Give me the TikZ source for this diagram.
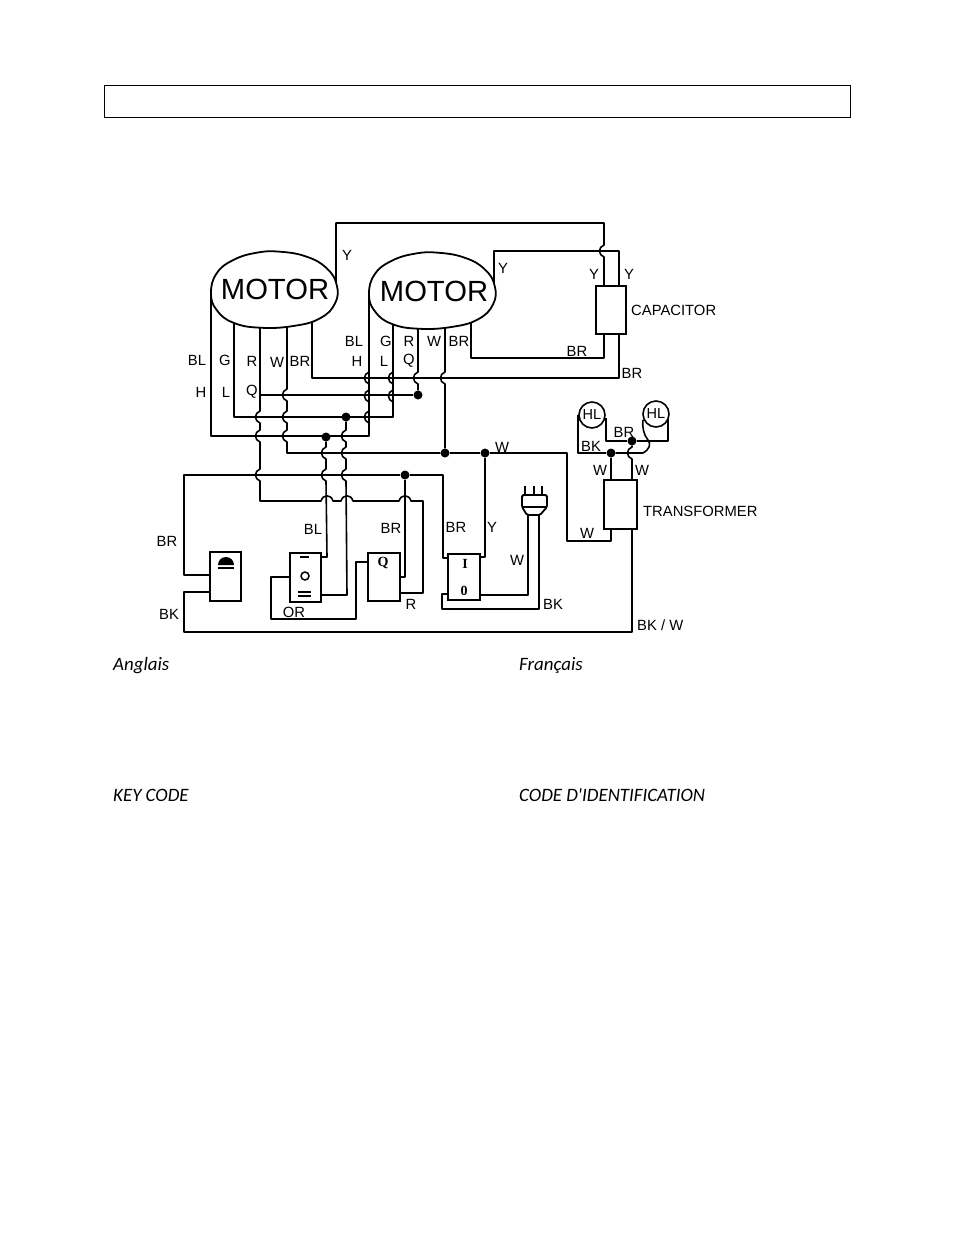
\documentclass[tikz,border=0pt]{standalone}
\usepackage{fontspec}
\setmainfont{Liberation Sans}
\newfontfamily\notefont{Carlito}
\newfontfamily\markfont{Liberation Serif}
% wire hops, vertical wire over a horizontal one and the other way round
\newcommand{\vhop}[2]{-- (#1,#2-6) .. controls (#1-6,#2-4) and (#1-6,#2+4) .. (#1,#2+6)}
\newcommand{\hhop}[2]{-- (#1-6,#2) .. controls (#1-4,#2-7) and (#1+4,#2-7) .. (#1+6,#2)}
% outline of the hand drawn motor
\newcommand{\motorline}{plot[smooth cycle, tension=0.75] coordinates {(211,293) (216.7,273.3) (233.3,260) (256.7,252.7) (280,251.7) (306.7,256.7) (326.7,268.3) (336.7,285) (335,303.3) (320,318.3) (293.3,326) (260,327.7) (233.3,322.7) (216.7,310)}}
\begin{document}
\begin{tikzpicture}[
    x=1pt, y=-1pt,
    wire/.style={draw, line width=1.6pt, line join=round},
    heavy/.style={draw, line width=2.3pt, line join=round},
    motor/.style={draw, line width=1.8pt, fill=white},
    motortext/.style={inner sep=0pt, font=\fontsize{29.2}{30}\selectfont},
    device/.style={rectangle, draw, line width=1.6pt, fill=white, inner sep=0pt},
    lamp/.style={circle, draw, line width=1.6pt, fill=white, minimum size=26pt, inner sep=0pt, font=\fontsize{14.5}{16}\selectfont},
    dot/.style={circle, fill=black, minimum size=9pt, inner sep=0pt},
    tag/.style={inner sep=0pt, yshift=-1pt, font=\fontsize{14.8}{16}\selectfont},
    devname/.style={tag, anchor=west},
    note/.style={anchor=base west, inner sep=0pt, font=\notefont\itshape\fontsize{18.9}{20}\selectfont},
    glyph/.style={inner sep=0pt, font=\markfont\bfseries\fontsize{14}{16}\selectfont}
]
    \useasboundingbox (0,0) rectangle (954,1235);

    \node[draw, line width=0.8pt, minimum width=746pt, minimum height=32pt, inner sep=0pt] (titlebox) at (477.5,101) {};

    % terminals
    \coordinate (lbl) at (211,293);
    \coordinate (lg) at (234,318);
    \coordinate (lr) at (260,322);
    \coordinate (lw) at (287,322);
    \coordinate (lbr) at (312,316);
    \coordinate (ly) at (336,285);
    \coordinate (rbl) at (369,294);
    \coordinate (rg) at (393,320);
    \coordinate (rr) at (418,322);
    \coordinate (rw) at (445,322);
    \coordinate (rbr) at (471,316);
    \coordinate (ry) at (494,286);

    % junctions
    \node[dot] (jq) at (418,395) {};
    \node[dot] (jl) at (346,417) {};
    \node[dot] (jh) at (326,437) {};
    \node[dot] (jw) at (445,453) {};
    \node[dot] (jy) at (485,453) {};
    \node[dot] (jbr) at (405,475) {};
    \node[dot] (jt) at (611,453) {};
    \node[dot] (jb) at (632,441) {};

    % upper wires
    \draw[wire] (ly) -- (336,223) -- (604,223) \vhop{604}{251} -- (604,286);
    \draw[wire] (ry) -- (494,251) -- (619,251) -- (619,286);
    \draw[wire] (604,334) -- (604,358) -- (471,358) -- (rbr);
    \draw[wire] (619,334) -- (619,378) -- (312,378) -- (lbr);

    % motor leads
    \draw[wire] (lbl) -- (211,436) -- (369,436) \vhop{369}{417} \vhop{369}{396} \vhop{369}{378} -- (rbl);
    \draw[wire] (lg) -- (234,417) -- (393,417) \vhop{393}{396} \vhop{393}{378} -- (rg);
    \draw[wire] (rr) \vhop{418}{378} -- (jq);
    \draw[wire] (jq) -- (260,395);
    \draw[wire] (lr) -- (260,395) \vhop{260}{417} \vhop{260}{436} \vhop{260}{475} -- (260,501)
        \hhop{327}{501} \hhop{347}{501} \hhop{405}{501} -- (423,501) -- (423,593) -- (400,593);
    \draw[wire] (lw) \vhop{287}{395} \vhop{287}{417} \vhop{287}{436} -- (287,453) -- (jw);
    \draw[wire] (rw) \vhop{445}{378} -- (jw);
    \draw[wire] (jw) -- (jy);
    \draw[wire] (jy) -- (567,453) -- (567,541) -- (611,541) -- (611,529);

    % lower wires
    \draw[wire] (jh) \vhop{326}{453} \vhop{326}{475} -- (327,557) -- (321,557);
    \draw[wire] (jl) \vhop{346}{436} \vhop{346}{453} \vhop{346}{475} -- (347,595) -- (321,595);
    \draw[heavy] (210,575) -- (184,575) -- (184,475) -- (jbr);
    \draw[heavy] (jbr) -- (443,475) -- (443,558) -- (448,558);
    \draw[wire] (jbr) -- (405,577) -- (400,577);
    \draw[heavy] (210,592) -- (184,592) -- (184,632) -- (632,632) -- (632,529);
    \draw[wire] (290,577) -- (271,577) -- (271,619) -- (356,619) -- (356,562) -- (368,562);
    \draw[wire] (448,594) -- (442,594) -- (442,609) -- (539,609) -- (539,515);
    \draw[wire] (480,595) -- (528,595) -- (528,515);
    \draw[wire] (480,557) -- (485,557) -- (jy);

    % lamps and transformer leads
    \draw[wire] (606,418) -- (606,441) -- (jb);
    \draw[wire] (jb) -- (668,441) -- (668,414);
    \draw[heavy] (578,415) -- (578,453) -- (jt);
    \draw[wire] (jt) -- (643,453) .. controls (650,449) and (651,444) .. (648,440) .. controls (644,435) and (642,428) .. (643,420);
    \draw[heavy] (jt) -- (611,480);
    \draw[wire] (jb) \vhop{632}{453} -- (632,480);

    % plug
    \draw[line width=1.8pt, fill=white, rounded corners=1.5pt] (522,495) -- (547,495) -- (547,507) -- (540,515) -- (527,515) -- (522,507) -- cycle;
    \draw[line width=1.6pt] (522,507) -- (547,507);
    \draw[line width=1.4pt] (525,486) -- (525,495) (534,486) -- (534,495) (542,486) -- (542,495);

    \draw[motor] \motorline;
    \draw[motor, xshift=158pt, yshift=-1pt] \motorline;
    \node[motortext] (motorl) at (275,289) {MOTOR};
    \node[motortext] (motorr) at (434,291) {MOTOR};
    \node[device, minimum width=30pt, minimum height=48pt] (capacitor) at (611,310) {};
    \node[device, minimum width=33pt, minimum height=49pt] (transformer) at (620.5,504.5) {};
    \node[lamp] (lampl) at (592,415) {HL};
    \node[lamp] (lampr) at (656,414) {HL};

    \node[device, minimum width=31pt, minimum height=49pt] (boxa) at (225.5,576.5) {};
    \node[device, minimum width=31pt, minimum height=49pt] (boxb) at (305.5,577.5) {};
    \node[device, minimum width=32pt, minimum height=48pt] (boxq) at (384,577) {};
    \node[device, minimum width=32pt, minimum height=46pt] (boxi) at (464,577) {};

    % marks on the switches
    \fill (218,565) arc[start angle=180, end angle=360, x radius=8, y radius=8] -- cycle;
    \fill (218,566.5) rectangle (234,569);
    \draw[line width=1.3pt] (300,557) -- (309,557);
    \node[circle, draw, line width=1.5pt, minimum width=8pt, minimum height=8pt, inner sep=0pt] (knob) at (305,576) {};
    \draw[line width=1.4pt] (298,592) -- (311,592) (298,596) -- (311,596);
    \node[glyph] (markq) at (383,563) {Q};
    \node[glyph] (marki) at (465,564) {I};
    \node[glyph] (marko) at (464,591) {0};

    % labels
    \node[tag] (ty1) at (347,254) {Y};
    \node[tag] (ty2) at (503,267) {Y};
    \node[tag] (ty3) at (594,273) {Y};
    \node[tag] (ty4) at (629,273) {Y};
    \node[devname] (tcap) at (631,309) {CAPACITOR};
    \node[tag] (tbr1) at (577,350) {BR};
    \node[tag] (tbr2) at (632,372) {BR};
    \node[tag] (tbl1) at (197,359) {BL};
    \node[tag] (tg1) at (225,359) {G};
    \node[tag] (tr1) at (252,360) {R};
    \node[tag] (tw1) at (277,361) {W};
    \node[tag] (tbr3) at (300,360) {BR};
    \node[tag] (th1) at (201,391) {H};
    \node[tag] (tl1) at (226,391) {L};
    \node[tag] (tq1) at (252,391) {Q};
    \node[tag] (tbl2) at (354,340) {BL};
    \node[tag] (th2) at (357,360) {H};
    \node[tag] (tg2) at (386,340) {G};
    \node[tag] (tl2) at (384,360) {L};
    \node[tag] (tr2) at (409,340) {R};
    \node[tag] (tq2) at (409,360) {Q};
    \node[tag] (tw2) at (434,340) {W};
    \node[tag] (tbr4) at (459,340) {BR};
    \node[tag] (tbl3) at (313,528) {BL};
    \node[tag] (tbr5) at (391,527) {BR};
    \node[tag] (tbr6) at (456,526) {BR};
    \node[tag] (tbr7) at (167,540) {BR};
    \node[tag] (tbk1) at (169,613) {BK};
    \node[tag] (tor) at (294,611) {OR};
    \node[tag] (tr3) at (411,603) {R};
    \node[tag] (tw3) at (502,446) {W};
    \node[tag] (tbr8) at (624,431) {BR};
    \node[tag] (tbk2) at (591,445) {BK};
    \node[tag] (tw4) at (600,469) {W};
    \node[tag] (tw5) at (642,469) {W};
    \node[devname] (ttrans) at (643,510) {TRANSFORMER};
    \node[tag] (tw6) at (587,532) {W};
    \node[tag] (ty5) at (492,526) {Y};
    \node[tag] (tw7) at (517,559) {W};
    \node[tag] (tbk3) at (553,603) {BK};
    \node[devname] (tbkw) at (637,624) {BK / W};

    \node[note] (anglais) at (113,670) {Anglais};
    \node[note] (francais) at (519,670) {Français};
    \node[note] (keycode) at (113,801) {KEY CODE};
    \node[note] (codeid) at (519,801) {CODE D'IDENTIFICATION};
\end{tikzpicture}
\end{document}
